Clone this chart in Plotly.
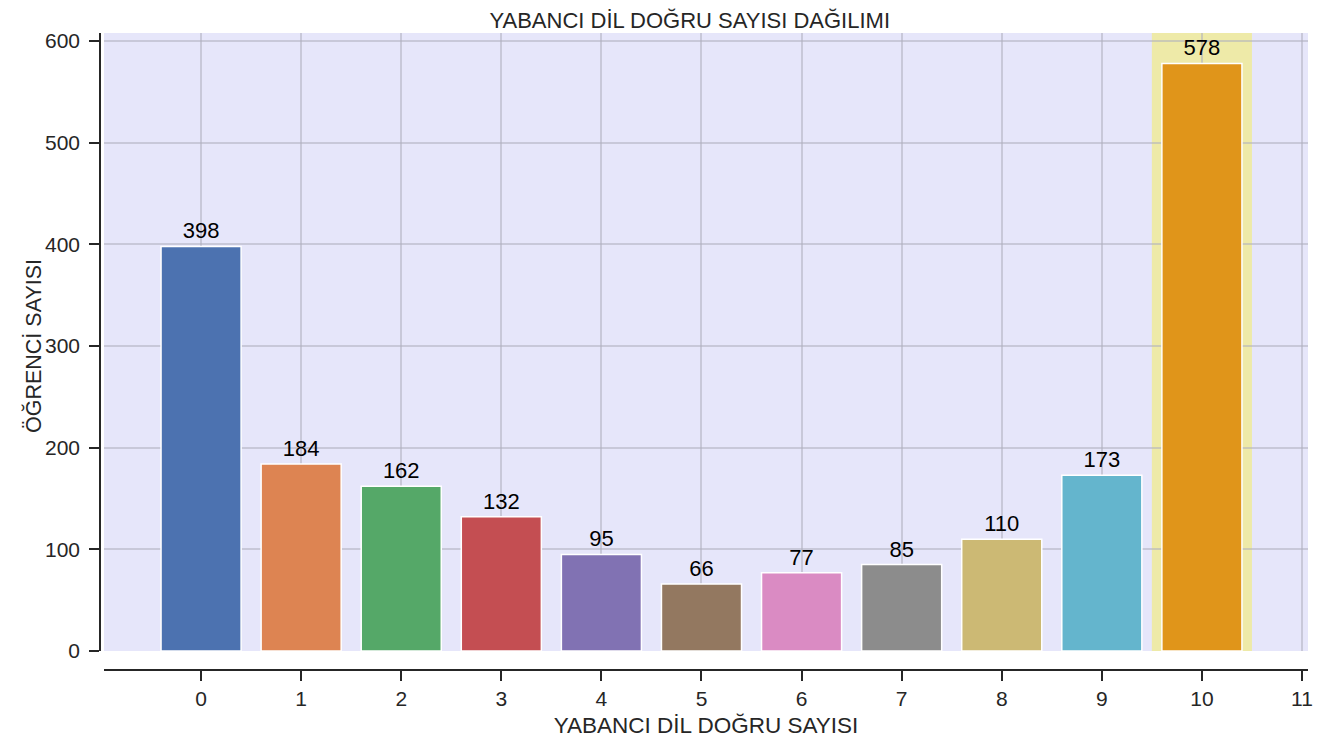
import plotly.graph_objects as go

categories = [0, 1, 2, 3, 4, 5, 6, 7, 8, 9, 10]
counts = [398, 184, 162, 132, 95, 66, 77, 85, 110, 173, 578]
bar_colors = ["#4C72B0", "#DD8452", "#55A868", "#C44E52", "#8172B3", "#937860",
              "#DA8BC3", "#8C8C8C", "#CCB974", "#64B5CD", "#E0951A"]
x_ticks = list(range(0, 12))
y_ticks = [0, 100, 200, 300, 400, 500, 600]
highlight_category = 10

title_text = "YABANCI DİL DOĞRU SAYISI DAĞILIMI"
x_title = "YABANCI DİL DOĞRU SAYISI"
y_title = "ÖĞRENCİ SAYISI"

FONT = "Liberation Sans, Arial, sans-serif"
DARK = "#262626"
GRID = "rgba(175,175,190,0.55)"

fig = go.Figure()
fig.add_trace(go.Bar(
    x=categories, y=counts,
    marker=dict(color=bar_colors, line=dict(color="white", width=1.5)),
    width=0.8,
    text=[str(v) for v in counts],
    textposition="outside",
    constraintext="none",
    cliponaxis=False,
    textfont=dict(family=FONT, size=22, color="black"),
    showlegend=False,
))

# lavender plot background (only the y-domain; the x axis is offset below)
fig.add_shape(type="rect", xref="x domain", yref="y domain", x0=0, x1=1, y0=0, y1=1,
              fillcolor="#E6E6FA", line=dict(width=0), layer="below")
# highlight band
fig.add_shape(type="rect", xref="x", yref="y domain",
              x0=highlight_category - 0.5, x1=highlight_category + 0.5, y0=0, y1=1,
              fillcolor="#EEEAA8", line=dict(width=0), layer="below")

# y-axis title as annotation for exact placement
fig.add_annotation(text=y_title, textangle=-90, xref="paper", yref="y domain",
                   x=0, y=0.5, xanchor="center", yanchor="middle",
                   xshift=-67, yshift=-4, showarrow=False,
                   font=dict(family=FONT, size=21.5, color=DARK))

fig.update_layout(
    width=1342, height=745,
    margin=dict(l=92, r=42, t=25, b=83, autoexpand=False),
    paper_bgcolor="white", plot_bgcolor="white",
    font=dict(family=FONT, color=DARK),
    title=dict(text=title_text, x=0.508, xanchor="center", y=0.9839, yanchor="middle",
               automargin=False,
               font=dict(family=FONT, size=22, color=DARK)),
    bargap=0.2,
    xaxis=dict(
        domain=[0.0033, 1],
        range=[-0.97, 11.06],
        tickmode="array", tickvals=x_ticks, ticktext=[str(t) for t in x_ticks],
        anchor="free", position=0, automargin=False,
        showline=True, linecolor=DARK, linewidth=1.5,
        ticks="outside", ticklen=10, tickwidth=1.5, tickcolor=DARK,
        tickfont=dict(family=FONT, size=21, color=DARK),
        showgrid=True, gridcolor=GRID, gridwidth=1.5,
        zeroline=False,
        title=dict(text=x_title, font=dict(family=FONT, size=22.5, color=DARK), standoff=7),
    ),
    yaxis=dict(
        domain=[0.0298, 1],
        range=[0, 608],
        tickmode="array", tickvals=y_ticks, ticktext=[str(t) for t in y_ticks],
        anchor="free", position=0, automargin=False,
        showline=True, linecolor=DARK, linewidth=1.5,
        ticks="outside", ticklen=10, tickwidth=1.5, tickcolor=DARK,
        ticklabelstandoff=5,
        tickfont=dict(family=FONT, size=21, color=DARK),
        showgrid=True, gridcolor=GRID, gridwidth=1.5,
        zeroline=False,
    ),
)

fig.write_html("out.html")
